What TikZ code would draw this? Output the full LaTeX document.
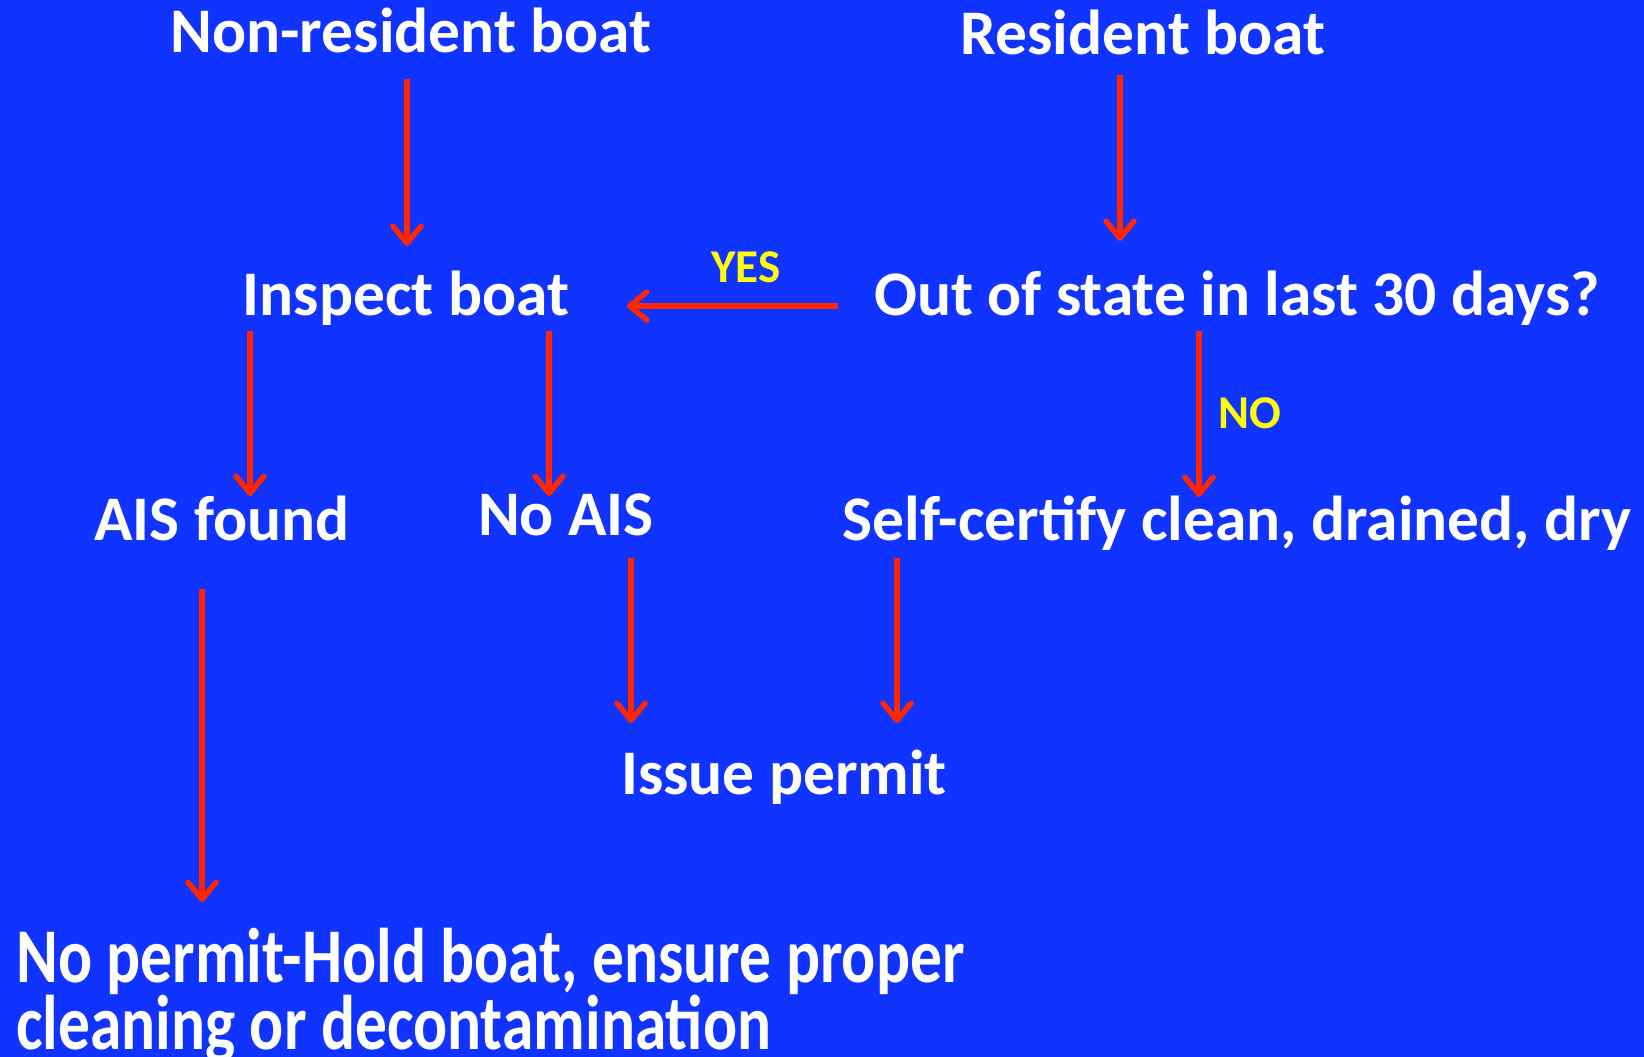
\documentclass[tikz,border=0pt]{standalone}
\usepackage{fontspec}
\usepackage{graphicx}
\setmainfont{Carlito}
\usetikzlibrary{arrows.meta}
\definecolor{bgblue}{RGB}{17,51,255}
\definecolor{arrred}{RGB}{255,38,0}
\definecolor{lblyellow}{RGB}{255,255,0}
\begin{document}
\begin{tikzpicture}[x=1pt,y=-1pt,
  txt/.style={text=white,font=\fontsize{63.5}{63}\selectfont\bfseries,inner sep=0pt,anchor=base},
  lbl/.style={text=lblyellow,font=\fontsize{47}{48}\selectfont\bfseries,inner sep=0pt},
  flow/.style={draw=arrred,line width=5.5pt,-{Straight Barb[length=17pt,width=28pt,line join=round,line cap=round]}}]
\fill[bgblue] (0,0) rectangle (1644,1057);
\useasboundingbox (0,0) rectangle (1644,1057);
% texts
\node[txt] (nonres) at (411,53) {Non-resident boat};
\node[txt] (res) at (1143,55) {Resident boat};
\node[txt] (inspect) at (406,315) {Inspect boat};
\node[txt] (out) at (1237,315) {Out of state in last 30 days?};
\node[txt] (ais) at (222,540) {AIS found};
\node[txt] (noais) at (566,535) {No AIS};
\node[txt] (self) at (1237,540) {Self-certify clean, drained, dry};
\node[txt] (issue) at (784,794) {Issue permit};
\node[txt,anchor=base west] (nopermit) at (16,1049) {\scalebox{1}[1.22]{\vbox{\baselineskip=54.9pt\lineskiplimit=-1000pt\lineskip=0pt
  \hbox{No permit-Hold boat, ensure proper}\hbox{cleaning or decontamination}}}};
\node[lbl] (yes) at (746,267) {YES};
\node[lbl] (no) at (1250,413) {NO};
% arrow endpoints
\coordinate (a1s) at (407,79);  \coordinate (a1e) at (407,246);
\coordinate (a2s) at (1120,75); \coordinate (a2e) at (1120,241);
\coordinate (a3s) at (838,306); \coordinate (a3e) at (627,306);
\coordinate (a4s) at (250,331); \coordinate (a4e) at (250,496);
\coordinate (a5s) at (549,331); \coordinate (a5e) at (549,496);
\coordinate (a6s) at (1199,331); \coordinate (a6e) at (1199,497);
\coordinate (a7s) at (202,589); \coordinate (a7e) at (202,902);
\coordinate (a8s) at (631,558); \coordinate (a8e) at (631,723);
\coordinate (a9s) at (897,558); \coordinate (a9e) at (897,723);
\draw[flow] (a1s) -- (a1e);
\draw[flow] (a2s) -- (a2e);
\draw[flow] (a3s) -- (a3e);
\draw[flow] (a4s) -- (a4e);
\draw[flow] (a5s) -- (a5e);
\draw[flow] (a6s) -- (a6e);
\draw[flow] (a7s) -- (a7e);
\draw[flow] (a8s) -- (a8e);
\draw[flow] (a9s) -- (a9e);
\end{tikzpicture}
\end{document}
